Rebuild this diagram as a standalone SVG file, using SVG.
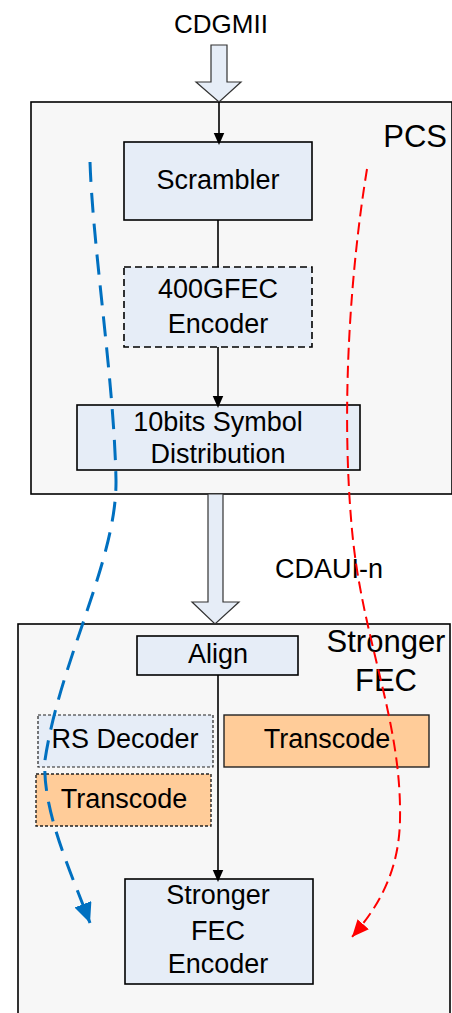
<svg xmlns="http://www.w3.org/2000/svg" width="452" height="1013" viewBox="0 0 452 1013">
<style>
text{font-family:"Liberation Sans",Arial,sans-serif;fill:#000}
.t{font-size:27px;text-anchor:middle}
.big{font-size:31px}
.cont{fill:#f7f7f7;stroke:#000;stroke-width:1.6}
.box{fill:#e6edf7;stroke:#000;stroke-width:1.6}
.dash{stroke-dasharray:7,4}
.fine{stroke-dasharray:3,2;stroke-width:1.2;stroke:#222}
.or{fill:#ffcc99;stroke:#222;stroke-width:1.4}
.hollow{fill:#e6edf7;stroke:#333;stroke-width:1.2}
.ln{fill:none;stroke:#000;stroke-width:1.6}
</style>
<defs>
<marker id="ah" markerWidth="12" markerHeight="16" refX="12" refY="7" orient="auto" markerUnits="userSpaceOnUse" viewBox="0 0 16 14"><path d="M0,0 L16,7 L0,14 Z" fill="#000"/></marker>
<marker id="ab" markerWidth="20" markerHeight="18" refX="20" refY="9" orient="auto" markerUnits="userSpaceOnUse" viewBox="0 0 20 18"><path d="M0,0 L20,9 L0,18 Z" fill="#0070c0"/></marker>
<marker id="ar" markerWidth="17" markerHeight="15" refX="17" refY="7.5" orient="auto" markerUnits="userSpaceOnUse" viewBox="0 0 17 15"><path d="M0,0 L17,7.5 L0,15 Z" fill="#ff0000"/></marker>
</defs>
<rect width="452" height="1013" fill="#fff"/>
<g id="pcs">
<rect class="cont" x="31" y="102" width="421" height="392"/>
<text class="big" x="447" y="147" text-anchor="end">PCS</text>
</g>
<g id="strongerfec">
<rect class="cont" x="18" y="624" width="432" height="400"/>
<text class="big" x="386" y="652" text-anchor="middle">Stronger</text>
<text class="big" x="386" y="691" text-anchor="middle">FEC</text>
</g>
<g id="cdgmii">
<text x="221" y="33" font-size="26" text-anchor="middle">CDGMII</text>
<polygon class="hollow" points="211,45 227,45 227,82 241,82 219,102 196,82 211,82"/>
</g>
<g id="cdaui">
<polygon class="hollow" points="208,494 223,494 223,602 239,602 215,624 192,602 208,602"/>
<text x="275" y="578" font-size="27">CDAUI-n</text>
</g>
<g id="scrambler">
<rect class="box" x="124" y="142" width="188" height="78"/>
<text class="t" x="218" y="189">Scrambler</text>
</g>
<g id="fec400">
<rect class="box dash" x="124" y="267" width="188" height="80"/>
<text class="t" x="218" y="298">400GFEC</text>
<text class="t" x="218" y="333">Encoder</text>
</g>
<g id="symdist">
<rect class="box" x="77" y="405" width="283" height="65"/>
<text class="t" x="218" y="431">10bits Symbol</text>
<text class="t" x="218" y="463">Distribution</text>
</g>
<g id="align">
<rect class="box" x="137" y="636" width="161" height="39"/>
<text class="t" x="218" y="663">Align</text>
</g>
<g id="rsdecoder">
<rect class="box fine" x="38" y="715" width="175" height="52"/>
<text class="t" x="125" y="748">RS Decoder</text>
</g>
<g id="transcode-right">
<rect class="or" x="224" y="715" width="205" height="52"/>
<text class="t" x="327" y="748">Transcode</text>
</g>
<g id="transcode-left">
<rect class="or fine" x="36" y="774" width="175" height="52"/>
<text class="t" x="124" y="808">Transcode</text>
</g>
<g id="sfecenc">
<rect class="box" x="125" y="879" width="188" height="105"/>
<text class="t" x="218" y="904">Stronger</text>
<text class="t" x="218" y="940">FEC</text>
<text class="t" x="218" y="973">Encoder</text>
</g>
<g id="connectors">
<line class="ln" x1="219" y1="102" x2="219" y2="142" marker-end="url(#ah)"/>
<line class="ln" x1="218" y1="220" x2="218" y2="267"/>
<line class="ln" x1="218" y1="347" x2="218" y2="405" marker-end="url(#ah)"/>
<line class="ln" x1="218" y1="675" x2="218" y2="879" marker-end="url(#ah)"/>
<path d="M90,162 C93,250 114,380 116,480 C117,560 60,660 45,760 C42,810 70,870 90,923" fill="none" stroke="#0070c0" stroke-width="3" stroke-dasharray="20,11" marker-end="url(#ab)"/>
<path d="M367,169 C352,260 340,400 352,530 C362,640 402,720 400,820 C399,870 380,905 352,937" fill="none" stroke="#ff0000" stroke-width="2" stroke-dasharray="12,6" marker-end="url(#ar)"/>
</g>
</svg>
